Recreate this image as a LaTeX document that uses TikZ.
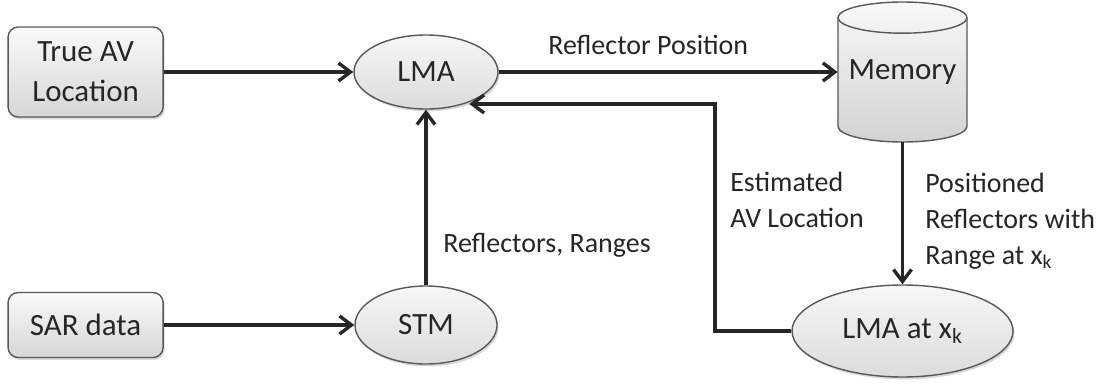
\documentclass[tikz,border=0pt]{standalone}
\usepackage{fontspec}
\setmainfont{Carlito}
\usetikzlibrary{arrows.meta,shapes.geometric,shadows}

\tikzset{
  box/.style={rectangle,rounded corners=0.25cm,draw=black!65,line width=1pt,
    top color=gray!4,bottom color=gray!32,
    drop shadow={opacity=0.3,shadow xshift=0.04cm,shadow yshift=-0.06cm},
    minimum width=3.875cm,align=center,text=black!85,
    font=\fontsize{22}{28.5}\selectfont},
  oval/.style={ellipse,draw=black!65,line width=1pt,
    top color=gray!6,bottom color=gray!28,
    drop shadow={opacity=0.3,shadow xshift=0.04cm,shadow yshift=-0.06cm},
    text=black!85,font=\fontsize{22}{28}\selectfont},
  store/.style={rectangle,minimum width=3.225cm,minimum height=3.5cm,
    text=black!85,font=\fontsize{22}{28}\selectfont},
  storeskin/.style={draw=black!65,line width=1pt,top color=gray!5,bottom color=gray!35},
  lid/.style={x radius=1.6125cm,y radius=0.39cm},
  lbl/.style={anchor=west,align=left,inner sep=0pt,text=black!85,
    font=\fontsize{19.9}{25.5}\selectfont},
  arrow/.style={line width=2.4pt,draw=black!85,-{Straight Barb[length=0.3cm,width=0.45cm]}}
}

\begin{document}
\begin{tikzpicture}
    \useasboundingbox (0,0) rectangle (27.575,9.575);

    % nodes
    \node (trueav) at (2.14,7.775) [box,minimum height=2.25cm] {True AV\\Location};
    \node (sar) at (2.14,1.45) [box,minimum height=1.625cm] {SAR data};
    \node (lma) at (10.65,7.775) [oval,minimum width=3.6cm,minimum height=1.85cm] {LMA};
    \node (stm) at (10.65,1.45) [oval,minimum width=3.55cm,minimum height=1.95cm] {STM};
    \node (lmak) at (22.5625,1.3) [oval,minimum width=5.525cm,minimum height=2.3cm] {LMA at x\textsubscript{k}};

    % memory drum: skin first, text node on top
    \coordinate (drum) at (22.5625,7.775);
    \draw[storeskin] ([shift={(-1.6125,1.36)}]drum) -- ([shift={(-1.6125,-1.36)}]drum)
        arc[start angle=180,end angle=360,lid] -- ([shift={(1.6125,1.36)}]drum)
        arc[start angle=0,end angle=180,lid] -- cycle;
    \draw[draw=black!65,line width=1pt] ([shift={(-1.6125,1.36)}]drum)
        arc[start angle=180,end angle=360,lid];
    \node (memory) at (drum) [store] {Memory};

    % labels
    \node (lblpos) at (13.7,8.45) [lbl] {Reflector Position};
    \node (lblrng) at (11.075,3.45) [lbl] {Reflectors, Ranges};
    \node (lblest) at (18.25,4.575) [lbl] {Estimated\\AV Location};
    \node (lblwith) at (23.125,4.05) [lbl] {Positioned\\Reflectors with\\Range at x\textsubscript{k}};

    % paths
    \coordinate (fbturn) at (17.875,6.975);
    \draw[arrow] (trueav) -- (lma); % True AV -> LMA
    \draw[arrow] (sar) -- (stm); % SAR -> STM
    \draw[arrow] (stm) -- (lma); % STM -> LMA
    \draw[arrow] (lma) -- (memory); % LMA -> Memory
    \draw[arrow] (memory) -- (lmak); % Memory -> LMA at xk
    \draw[arrow] (lmak.west) -| (fbturn) -- (fbturn -| lma.-35); % LMA at xk -> LMA

\end{tikzpicture}
\end{document}
